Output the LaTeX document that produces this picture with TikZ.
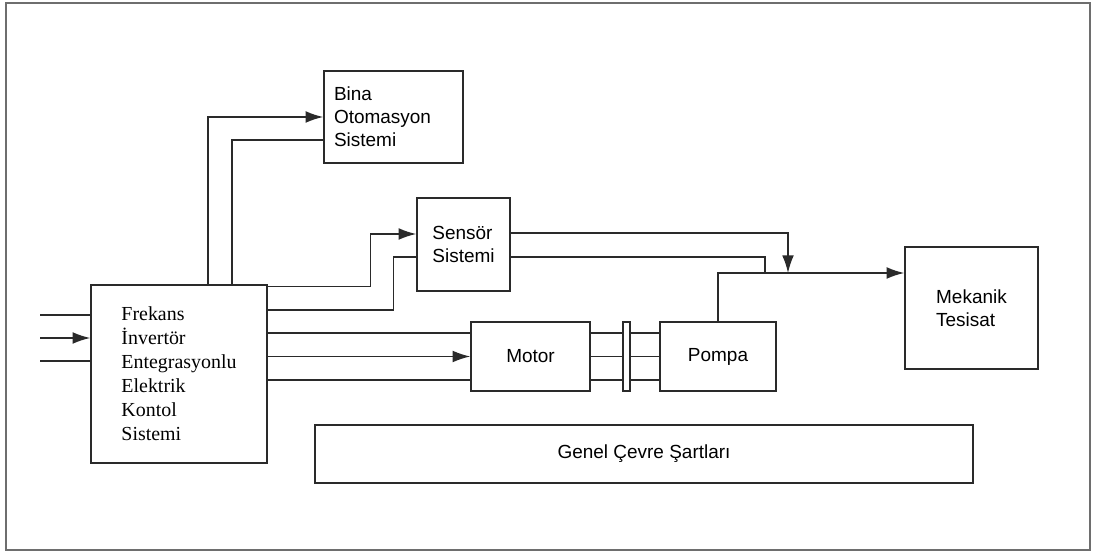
\documentclass[tikz,border=0pt]{standalone}
\usepackage{fontspec}
\setmainfont{Liberation Sans}
\newfontfamily\ctrlfont{Liberation Serif}
\usetikzlibrary{positioning,calc,arrows.meta}
\definecolor{diagline}{HTML}{2A2A2A}
\definecolor{framegrey}{HTML}{6E6E6E}

\begin{document}
\begin{tikzpicture}[
  x=0.3mm, y=0.3mm,
  blk/.style={draw=diagline, line width=1.25pt, fill=white, inner sep=0pt,
    font=\fontsize{16.2}{19.6}\selectfont},
  ctrlblk/.style={blk, align=left, font=\ctrlfont\fontsize{17}{20.5}\selectfont},
  wire/.style={draw=diagline, line width=1.25pt},
  arr/.style={wire, -{Latex[length=15pt, width=10pt]}},
]

% geometry
\def\u{0.3mm}       % one pixel of the drawing

% page frame
\useasboundingbox (0,0) rectangle (1095,552);
\draw[framegrey, line width=1.6pt] (6,2) rectangle (1090,549);

% ---------- blocks ----------
\node[ctrlblk, minimum width=176*\u, minimum height=178*\u] (ctrl) at (179,178)
  {Frekans\\İnvertör\\Entegrasyonlu\\Elektrik\\Kontol\\Sistemi};
\node[blk, align=left, text width=119*\u, minimum width=139*\u, minimum height=92*\u]
  (bas) at (393.5,435) {Bina\\Otomasyon\\Sistemi};
\node[blk, align=left, minimum width=93*\u, minimum height=93*\u] (sensor) at (463.5,307.5)
  {Sensör\\Sistemi};
\node[blk, minimum width=119*\u, minimum height=69*\u] (motor) at (530.5,195.5) {Motor};
\node[blk, minimum width=7*\u, minimum height=69*\u] (coupling) at (626.5,195.5) {};
\node[blk, minimum width=116*\u, minimum height=69*\u] (pump) at (718,195.5) {Pompa};
\node[blk, align=left, minimum width=133*\u, minimum height=122*\u] (mech) at (971.5,244)
  {Mekanik\\Tesisat};
\node[blk, minimum width=658*\u, minimum height=58*\u] (env) at (644,98)
  {Genel Çevre Şartları};

% ---------- inputs ----------
\coordinate (in1) at (40,237);
\coordinate (in2) at (40,214);
\coordinate (in3) at (40,191);
\draw[wire] (in1) -- (in1 -| ctrl.west);
\draw[arr] (in2) -- (in2 -| ctrl.west);
\draw[wire] (in3) -- (in3 -| ctrl.west);

% ---------- control -> building automation ----------
\draw[arr] ($(ctrl.north)+(29,0)$) |- (bas.west);
\draw[wire] ($(ctrl.north)+(53,0)$) |- ($(bas.west)+(0,-23)$);

% ---------- control -> sensor ----------
\draw[arr] ($(ctrl.north east)+(0,-2)$) -- ++(103,0) |- ($(sensor.west)+(0,10.5)$);
\draw[wire] ($(ctrl.east)+(0,64)$) -- ++(126,0) |- ($(sensor.west)+(0,-12.5)$);

% ---------- control -> motor -> pump ----------
\foreach \dy in {23.5,-23.5} {
  \path ($(motor.west)+(0,\dy)$) coordinate (mw);
  \draw[wire] (ctrl.east |- mw) -- (mw);
}
\draw[arr] (ctrl.east |- motor.west) -- (motor.west);
\foreach \dy in {23.5,0,-23.5} {
  \draw[wire] ($(motor.east)+(0,\dy)$) -- ($(coupling.west)+(0,\dy)$);
  \draw[wire] ($(coupling.east)+(0,\dy)$) -- ($(pump.west)+(0,\dy)$);
}

% ---------- sensor, pump -> mechanical plant ----------
\coordinate (join) at (788,279);
\draw[arr] ($(sensor.east)+(0,11.5)$) -| (join);
\draw[wire] ($(sensor.east)+(0,-12.5)$) -| ($(join)+(-23,0)$);
\draw[arr] (pump.north) |- ($(mech.west)+(0,35)$);

\end{tikzpicture}
\end{document}
